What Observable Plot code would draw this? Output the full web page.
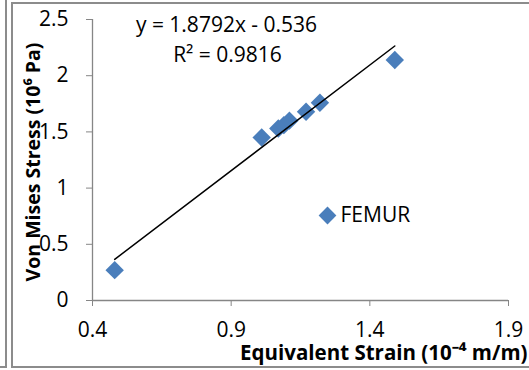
<!DOCTYPE html>
<html>
<head>
<meta charset="utf-8">
<script src="https://cdn.jsdelivr.net/npm/d3@7"></script>
<script src="https://cdn.jsdelivr.net/npm/@observablehq/plot@0.6"></script>
<style>
  html, body { margin: 0; padding: 0; background: #fff; }
  #wrap { position: relative; width: 529px; height: 370px; overflow: hidden; }
  .box { position: absolute; border: 2px solid #8c8c8c; box-sizing: border-box; }
  #chart { position: absolute; left: 0; top: 0; }
</style>
</head>
<body>
<div id="wrap">
  <div class="box" style="left:-20px; top:-20px; width:27px; height:388px;"></div>
  <div class="box" style="left:11px; top:2px; width:540px; height:366px; border-right:none;"></div>
  <div id="chart"></div>
</div>
<script>
const series = "FEMUR";
const strain = [0.48, 1.01, 1.07, 1.09, 1.11, 1.17, 1.22, 1.49];
const stress = [0.27, 1.45, 1.53, 1.56, 1.60, 1.68, 1.76, 2.14];
const slope = 1.8792;
const intercept = -0.536;
const equationLabel = "y = 1.8792x - 0.536";
const r2Label = "R² = 0.9816";
const xTicks = [0.4, 0.9, 1.4, 1.9];
const yTicks = [0, 0.5, 1, 1.5, 2, 2.5];
const xLabel = "Equivalent Strain (10⁻⁴ m/m)";
const yLabel = "Von Mises Stress (10⁶ Pa)";

const points = strain.map((x, i) => ({x, y: stress[i]}));
const [xmin, xmax] = d3.extent(strain);
const trend = [xmin, xmax].map(x => ({x, y: slope * x + intercept}));

const gray = "#868686";
const blue = "#4a7ebb";
const fmt = d => String(d);

const chart = Plot.plot({
  width: 529,
  height: 370,
  marginLeft: 92,
  marginRight: 21,
  marginTop: 19,
  marginBottom: 70,
  x: {domain: [xTicks[0], xTicks[xTicks.length - 1]]},
  y: {domain: [yTicks[0], yTicks[yTicks.length - 1]]},
  style: {fontFamily: "'Open Sans', sans-serif", fontSize: "21px", background: "transparent", overflow: "visible", color: "#000"},
  marks: [
    Plot.ruleX([xTicks[0]], {stroke: gray, strokeWidth: 1.3}),
    Plot.ruleY([yTicks[0]], {stroke: gray, strokeWidth: 1.3}),
    Plot.axisY(yTicks, {tickSize: 6, tickPadding: 18, stroke: gray, fill: "#000", label: null, tickFormat: fmt}),
    Plot.axisX(xTicks, {tickSize: 6, tickPadding: 16, stroke: gray, fill: "#000", label: null, tickFormat: fmt}),
    Plot.dot(points, {x: "x", y: "y", symbol: "diamond2", r: 8.3, fill: blue, stroke: "none"}),
    Plot.line(trend, {x: "x", y: "y", stroke: "#000", strokeWidth: 1.5}),
    Plot.text([equationLabel], {frameAnchor: "top", dx: -74, dy: 6, lineAnchor: "middle", text: d => d, fill: "#000"}),
    Plot.text([r2Label], {frameAnchor: "top", dx: -73, dy: 36, lineAnchor: "middle", text: d => d, fill: "#000"}),
    Plot.dot([series], {frameAnchor: "top-left", dx: 235, dy: 196, symbol: "diamond2", r: 8, fill: blue, stroke: "none"}),
    Plot.text([series], {frameAnchor: "top-left", dx: 248, dy: 196, textAnchor: "start", lineAnchor: "middle", text: d => d, fill: "#000"}),
    Plot.text([xLabel], {frameAnchor: "bottom-right", dx: 19, dy: 53, textAnchor: "end", lineAnchor: "middle", text: d => d, fontWeight: "bold", fontSize: 20.5, fill: "#000"}),
    Plot.text([yLabel], {frameAnchor: "left", dx: -59, dy: 2, rotate: -90, textAnchor: "middle", lineAnchor: "middle", text: d => d, fontWeight: "bold", fontSize: 19.5, fill: "#000"})
  ]
});
document.getElementById("chart").appendChild(chart);
</script>
</body>
</html>
